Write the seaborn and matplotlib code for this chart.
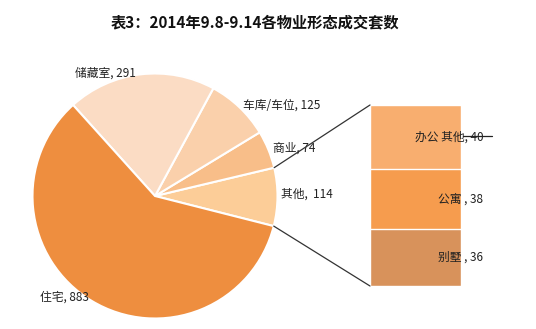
import numpy as np
import matplotlib
matplotlib.use("Agg")
import matplotlib.pyplot as plt
import seaborn as sns
import pandas as pd
from matplotlib.patches import ConnectionPatch

# ---- data ----
pie_labels = ["其他", "商业", "车库/车位", "储藏室", "住宅"]
pie_values = [114, 74, 125, 291, 883]
pie_colors = ["#FCCD98", "#F8BE89", "#FAD0AB", "#FBDCC4", "#EE8E3F"]
pie_text = ["其他,  114", "商业, 74", "车库/车位, 125", "储藏室, 291", "住宅, 883"]

bar_labels = ["别墅", "公寓", "办公 其他"]
bar_values = [36, 38, 40]
bar_colors = ["#D8925B", "#F69C4E", "#F8AE6F"]
bar_text = ["别墅 , 36", "公寓 , 38", "办公 其他, 40"]

title = "表3：2014年9.8-9.14各物业形态成交套数"

sns.set_theme(style="white")
plt.rcParams['font.family'] = ['Noto Sans CJK SC', 'DejaVu Sans']

W, H = 536, 329
fig = plt.figure(figsize=(W / 100, H / 100), dpi=100)
fig.patch.set_facecolor("white")

def px_axes(x0, y0, x1, y1):
    return fig.add_axes([x0 / W, 1 - y1 / H, (x1 - x0) / W, (y1 - y0) / H])

# ---- pie ----
axp = px_axes(32.5, 73.5, 277.5, 318.5)
total = sum(pie_values)
start = 132 + pie_values[-1] / total * 360 - 360  # 住宅 begins at ~132 deg
wedges, _ = axp.pie(pie_values, colors=pie_colors, startangle=start,
                    counterclock=True, radius=1,
                    wedgeprops=dict(edgecolor="white", linewidth=1.5))
axp.set_xlim(-1, 1)
axp.set_ylim(-1, 1)
axp.set_aspect("equal")
axp.axis("off")

label_pos = [(1.03, 0.015), (0.965, 0.39), (0.72, 0.74), (-0.655, 1.0), (-0.94, -0.825)]
for t, (x, y) in zip(pie_text, label_pos):
    axp.text(x, y, t, ha="left", va="center", fontsize=8.5, color="#222222")

# ---- stacked bar (bar of pie) ----
axb = px_axes(370, 105, 461, 286)
cum = np.cumsum(bar_values)
for i in range(len(bar_values) - 1, -1, -1):
    sns.barplot(x=["x"], y=[cum[i]], color=bar_colors[i], ax=axb, width=1,
                edgecolor="white", linewidth=1, saturation=1)
axb.set_xlim(-0.5, 0.5)
axb.set_ylim(0, cum[-1])
axb.axis("off")

bottoms = np.concatenate([[0], cum[:-1]])
for t, b, v in zip(bar_text, bottoms, bar_values):
    axb.text(0.745, b + v / 2, t, ha="right", va="center", fontsize=8.5,
             color="#222222", clip_on=False)
# leader stroke near the top label
axb.plot([0.52, 0.84], [bottoms[-1] + bar_values[-1] / 2 + 0.3] * 2,
         color="#222222", lw=0.9, clip_on=False)

# ---- connector lines ----
th1 = np.deg2rad(start)
th2 = np.deg2rad(start + pie_values[0] / total * 360)
for th, yb in [(th2, cum[-1]), (th1, 0)]:
    con = ConnectionPatch(xyA=(np.cos(th), np.sin(th)), coordsA=axp.transData,
                          xyB=(-0.5, yb), coordsB=axb.transData,
                          color="#333333", lw=0.9)
    fig.add_artist(con)

fig.text(255 / W, 1 - 22 / H, title, ha="center", va="center",
         fontsize=11, fontweight="bold", color="#111111")

fig.savefig("out.png", dpi=100, facecolor="white")
